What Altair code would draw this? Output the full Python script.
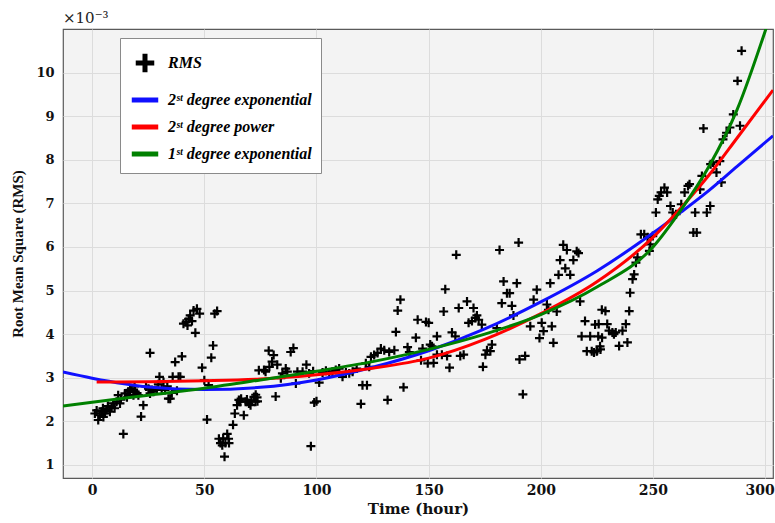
import altair as alt
import pandas as pd

# ---------------- data (values in units of 1e-3) ----------------
rms_x = [
    1.2, 2.7, 3.4, 4.2, 5.7, 6.4, 7.9, 8.7, 9.4, 10.9, 11.6, 12.4, 13.9, 14.6, 16.1, 16.9,
    17.6, 18.4, 19.1, 20.6, 21.8, 22.8, 25.8, 25.1, 25.8, 26.6, 27.3, 28.8, 30.0, 31.0,
    32.5, 34.0, 34.8, 35.9, 37.0, 38.5, 39.3, 40.0, 40.7, 41.9, 43.0, 43.7, 45.2, 46.7,
    47.9, 46.0, 51.2, 49.0, 50.0, 51.9, 53.1, 53.9, 54.6, 55.7, 57.2, 58.4, 59.4, 59.0,
    60.2, 61.0, 62.8, 63.6, 64.6, 65.4, 66.4, 67.6, 68.4, 69.9, 70.6, 72.1, 72.8, 74.3,
    2.0, 4.8, 7.0, 10.0, 5.0, 12.8, 15.5, 18.9, 20.0, 24.0, 29.5, 31.8, 33.5, 35.5, 37.8,
    42.5, 44.5, 56.5, 58.0, 60.8, 66.0, 69.0, 71.0, 73.5,
    72.9, 73.7, 76.6, 77.3, 78.7, 80.2, 80.9, 81.8, 84.1, 84.8, 86.3, 87.0, 88.5, 89.7,
    90.8, 91.5, 93.8, 96.7, 97.5, 99.0, 100.0, 101.2, 102.7, 104.2, 105.7, 107.1, 108.6,
    110.1, 111.6, 113.1, 114.6, 116.1, 117.9, 119.8, 120.5, 122.5, 122.0, 123.5, 124.3,
    125.7, 127.2, 128.7, 130.2, 131.7, 132.4, 134.7, 135.4, 136.2, 137.4, 138.8, 140.6,
    141.4, 144.3, 145.1, 146.6, 147.3, 148.8, 149.6, 79.0, 82.5, 95.5, 98.5,
    150.0, 150.7, 151.5, 152.2, 153.7, 153.7, 155.9, 156.7, 157.4, 158.2, 159.3, 160.4,
    161.9, 162.3, 163.4, 164.1, 165.6, 167.1, 167.8, 169.3, 170.0, 170.8, 171.5, 172.3,
    173.7, 174.2, 175.3, 176.0, 177.5, 178.2, 180.4, 181.6, 182.6, 183.4, 184.9, 186.1,
    187.1, 187.8, 189.3, 190.1, 190.5, 192.0, 193.0, 195.3, 196.8, 198.2, 199.4, 200.4,
    201.2, 202.7, 203.4, 204.2, 204.9, 205.6, 207.1, 207.9, 208.6, 210.0, 210.9, 211.6,
    213.1, 214.5, 216.0, 216.8, 217.5, 218.2, 219.7, 220.5, 222.0, 222.7, 224.2, 224.9,
    225.6, 226.4, 227.2,
    223.7, 225.1, 226.6, 228.8, 225.8, 227.3, 229.6, 230.4, 231.9, 232.6, 233.4, 234.9,
    236.4, 237.9, 238.6, 239.4, 239.8, 240.9, 241.6, 242.4, 243.1, 244.6, 246.1, 247.6,
    248.4, 248.8, 249.9, 251.3, 252.1, 252.8, 253.6, 255.1, 256.3, 257.8, 258.8, 260.3,
    262.6, 264.1, 265.6, 266.3, 268.0, 269.5, 268.8, 271.0, 271.8, 272.5, 274.0, 275.5,
    275.7, 276.8, 278.3, 279.8, 280.5, 281.2, 282.8, 284.3, 285.8, 288.8, 287.7, 289.5,
]
rms_y = [
    2.18, 2.03, 2.14, 2.22, 2.18, 2.26, 2.22, 2.33, 2.41, 2.45, 2.60, 2.41, 1.71, 2.64, 2.68, 2.72,
    2.75, 2.60, 2.68, 2.60, 2.11, 2.37, 3.57, 2.75, 2.64, 2.72, 2.68, 2.72, 3.02, 2.75,
    2.72, 2.52, 2.52, 3.02, 3.36, 3.02, 3.02, 3.49, 4.24, 4.28, 4.35, 4.43, 4.54, 4.58,
    4.47, 4.03, 2.04, 3.23, 2.94, 2.83, 3.46, 3.74, 4.47, 4.53, 1.50, 1.61, 1.50, 1.19,
    1.71, 1.50, 1.92, 2.18, 2.37, 2.49, 2.52, 2.14, 2.45, 2.41, 2.37, 2.56, 2.45, 3.17,
    2.25, 2.30, 2.35, 2.30, 2.10, 2.50, 2.55, 2.80, 2.65, 2.80, 2.85, 2.90, 2.80, 2.65, 2.70,
    4.20, 4.30, 1.60, 1.45, 1.60, 2.45, 2.50, 2.48, 2.55,
    2.61, 2.46, 3.18, 3.14, 3.62, 3.37, 3.52, 2.57, 2.99, 3.10, 3.21, 3.14, 3.59, 3.68,
    2.87, 3.14, 3.14, 3.10, 1.43, 2.43, 2.46, 2.89, 3.12, 3.16, 3.12, 3.14, 3.18,
    3.21, 3.02, 3.12, 3.10, 3.14, 3.21, 2.40, 2.83, 2.83, 3.33, 3.25, 3.48,
    3.52, 3.57, 3.67, 3.63, 2.49, 3.59, 3.63, 4.05, 4.54, 4.79, 2.78, 3.70,
    3.59, 3.92, 4.33, 3.40, 3.67, 4.28, 3.33, 3.25, 3.30, 3.30, 3.15,
    4.26, 3.76, 3.72, 3.34, 3.95, 3.53, 3.53, 4.52, 5.03, 3.50, 3.23, 4.04,
    3.95, 5.82, 4.60, 3.50, 3.53, 4.75, 4.26, 4.30, 4.60, 4.37, 4.43, 4.33,
    4.22, 3.25, 3.53, 3.63, 3.61, 3.76, 4.14, 5.93, 4.71, 5.21, 4.94, 4.94,
    4.65, 4.43, 5.17, 6.10, 3.42, 2.62, 3.50, 4.18, 4.79, 5.02, 3.91, 4.26,
    4.07, 4.68, 4.56, 5.17, 4.18, 3.80, 4.52, 5.36, 5.70, 6.05, 5.51, 5.93,
    5.36, 5.70, 5.90, 5.86, 4.75, 3.95, 4.30, 3.61, 3.95, 3.61, 4.22, 3.61,
    3.95, 3.72, 4.56,
    3.58, 3.62, 3.65, 4.53, 4.23, 3.92, 4.23, 4.08, 4.04, 4.00, 4.04, 3.73,
    4.08, 4.23, 3.81, 4.53, 4.95, 5.26, 5.37, 5.64, 5.76, 6.29, 6.29, 6.22,
    5.91, 6.06, 6.25, 6.79, 7.09, 7.17, 7.25, 7.36, 7.25, 6.94, 6.79, 6.75,
    6.98, 7.25, 7.40, 7.44, 6.33, 6.33, 6.79, 7.32, 7.63, 8.72, 6.79, 6.94,
    7.90, 7.94, 7.71, 7.97, 7.48, 8.47, 8.62, 8.74, 9.04, 8.78, 9.81, 10.50,
]

blue_x = [-13, 0, 25, 50, 75, 100, 125, 150, 175, 200, 225, 250, 262.5, 275, 287.5, 303.5]
blue_y = [3.13, 2.99, 2.79, 2.73, 2.78, 2.95, 3.24, 3.62, 4.12, 4.74, 5.45, 6.32, 6.80, 7.30, 7.85, 8.55]
red_x = [2, 25, 50, 75, 100, 125, 150, 175, 200, 225, 250, 262.5, 275, 287.5, 303.5]
red_y = [2.90, 2.91, 2.93, 2.97, 3.07, 3.22, 3.45, 3.88, 4.47, 5.20, 6.22, 6.90, 7.65, 8.50, 9.60]
green_x = [-13, 0, 25, 50, 75, 100, 125, 150, 175, 200, 225, 250, 262.5, 275, 287.5, 300, 303.5]
green_y = [2.35, 2.44, 2.60, 2.76, 2.95, 3.15, 3.37, 3.65, 4.00, 4.45, 5.08, 6.00, 6.85, 7.85, 9.15, 10.95, 11.5]

series_names = ["RMS", "2ˢᵗ degree exponential", "2ˢᵗ degree power", "1ˢᵗ degree exponential"]
series_colors = ["#000000", "#1010ff", "#ff0000", "#008000"]
x_ticks = [0, 50, 100, 150, 200, 250, 300]
y_ticks = [1, 2, 3, 4, 5, 6, 7, 8, 9, 10]

# ---------------- tables ----------------
pts = pd.DataFrame({"t": rms_x, "v": rms_y, "series": series_names[0]})
fits = pd.concat([
    pd.DataFrame({"t": blue_x, "v": blue_y, "series": series_names[1]}),
    pd.DataFrame({"t": red_x, "v": red_y, "series": series_names[2]}),
    pd.DataFrame({"t": green_x, "v": green_y, "series": series_names[3]}),
])

SERIF = "Liberation Serif"
WIDE = "DejaVu Serif"
cross = "M-0.7,0H0.7M0,-0.7V0.7"

xscale = alt.Scale(domain=[-13, 303.5], nice=False, zero=False)
yscale = alt.Scale(domain=[0.7, 11], nice=False, zero=False)
xaxis = alt.Axis(values=x_ticks, title="Time (hour)", titleFont=WIDE, titleFontSize=15,
                 titlePadding=4, labelFont=WIDE, labelFontSize=14, labelPadding=5, ticks=False,
                 labelFlush=16, labelFlushOffset=9)
yaxis = alt.Axis(values=y_ticks, title="Root Mean Square (RMS)", titleFont=SERIF, titleFontSize=15,
                 titlePadding=10, labelFont=WIDE, labelFontSize=13, labelPadding=9, ticks=False)

legend = alt.Legend(
    title=None, orient="none", legendX=57, legendY=9,
    fillColor="white", strokeColor="#8a8a8a", padding=9,
    symbolSize=700, symbolStrokeWidth=5, symbolFillColor="transparent",
    labelFont=SERIF, labelFontSize=16, labelFontStyle="italic", labelFontWeight="bold",
    labelOffset=7, rowPadding=1, labelLimit=300,
)

color = alt.Color("series:N", scale=alt.Scale(domain=series_names, range=series_colors),
                  legend=legend)
shape = alt.Shape("series:N", scale=alt.Scale(domain=series_names,
                                               range=[cross, "stroke", "stroke", "stroke"]),
                  legend=legend)

points = alt.Chart(pts).mark_point(filled=False, strokeWidth=2.2, size=165, opacity=1).encode(
    x=alt.X("t:Q", scale=xscale, axis=xaxis),
    y=alt.Y("v:Q", scale=yscale, axis=yaxis),
    color=color,
    shape=shape,
)

lines = alt.Chart(fits).mark_line(strokeWidth=3, clip=True, interpolate="monotone").encode(
    x=alt.X("t:Q", scale=xscale),
    y=alt.Y("v:Q", scale=yscale),
    color=alt.Color("series:N", scale=alt.Scale(domain=series_names, range=series_colors)),
)

chart = (
    alt.layer(points, lines)
    .properties(
        width=710, height=449,
        autosize=alt.AutoSizeParams(type="none"),
        padding={"left": 63, "top": 29, "right": 2, "bottom": 45},
        title=alt.TitleParams("×10⁻³", anchor="start", frame="group", offset=3,
                              font=WIDE, fontSize=15, fontWeight="normal", color="#222222"),
    )
    .configure_view(fill="#f3f3f3", stroke="#5a5a5a", strokeWidth=1.2)
    .configure_axis(
        domain=False, grid=True, gridColor="#dcdcdc", gridWidth=1,
        labelFontWeight="bold", labelColor="#111111",
        titleFontWeight="bold", titleColor="#111111",
    )
)

chart.save("out.html", embed_options={"renderer": "svg", "actions": False})
